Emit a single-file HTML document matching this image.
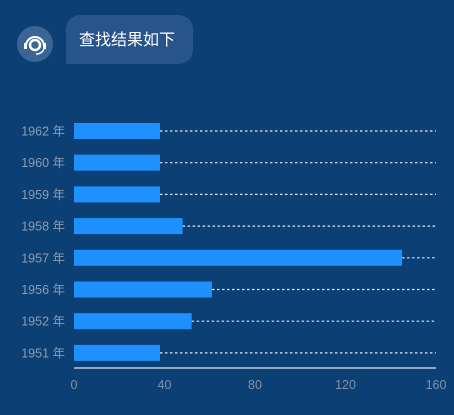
<!DOCTYPE html>
<html><head><meta charset="utf-8"><style>
body{margin:0;width:454px;height:410px;background:#0c3f73;overflow:hidden;font-family:"Liberation Sans","Noto Sans CJK SC",sans-serif}
</style></head><body>
<svg width="454" height="410" id="s">
<circle cx="35" cy="44" r="18" fill="#3b6592"/>
<g fill="none" stroke="#fff">
<path d="M26 46 a9 9 0 0 1 18 0" stroke-width="2"/>
<circle cx="35" cy="45" r="5" stroke-width="2.5"/>
<rect x="24" y="43" width="3" height="6" fill="#fff" stroke="none"/>
<rect x="43" y="43" width="3" height="6" fill="#fff" stroke="none"/>
<path d="M44 49 q-2 5 -8 5" stroke-width="1.5"/>
</g>
<path d="M80 15 H179 a14 14 0 0 1 14 14 V50 a14 14 0 0 1 -14 14 H66 V29 a14 14 0 0 1 14 -14Z" fill="#27548a"/>
<text x="79" y="45" fill="#fff" font-size="16">查找结果如下</text>
<line x1="74" y1="368" x2="436" y2="368" stroke="#b9cce0" stroke-width="1.5"/>
</svg>
<script>
const categories=["1962 年","1960 年","1959 年","1958 年","1957 年","1956 年","1952 年","1951 年"];
const values=[38,38,38,48,145,61,52,38];
const ticks=[0,40,80,120,160];
const s=document.getElementById('s'),NS="http://www.w3.org/2000/svg";
const x0=74,x1=436,xmax=160,y0=131,step=31.7,bh=16;
const xs=v=>x0+v/xmax*(x1-x0);
const ys=i=>y0+i*step;
function mk(t,a){const e=document.createElementNS(NS,t);for(const k in a)e.setAttribute(k,a[k]);s.appendChild(e);return e;}
categories.forEach((c,i)=>{
const y=ys(i);
const g=mk('line',{x1:xs(values[i]),x2:x1,y1:y,y2:y,stroke:'#dfe8f2','stroke-width':1.2,'stroke-dasharray':'2.5,2.5'});


const b=mk('rect',{x:x0,y:y-bh/2,width:xs(values[i])-x0,height:bh,fill:'#1e90ff'});


const t=mk('text',{x:65,y:y+4.5,'text-anchor':'end',fill:'#8b9db3','font-size':12.5});
t.textContent=c;


});
ticks.forEach(v=>{
const t=mk('text',{x:xs(v),y:389,'text-anchor':'middle',fill:'#7f93ab','font-size':12.5});
t.textContent=v;


});
</script>
</body></html>
